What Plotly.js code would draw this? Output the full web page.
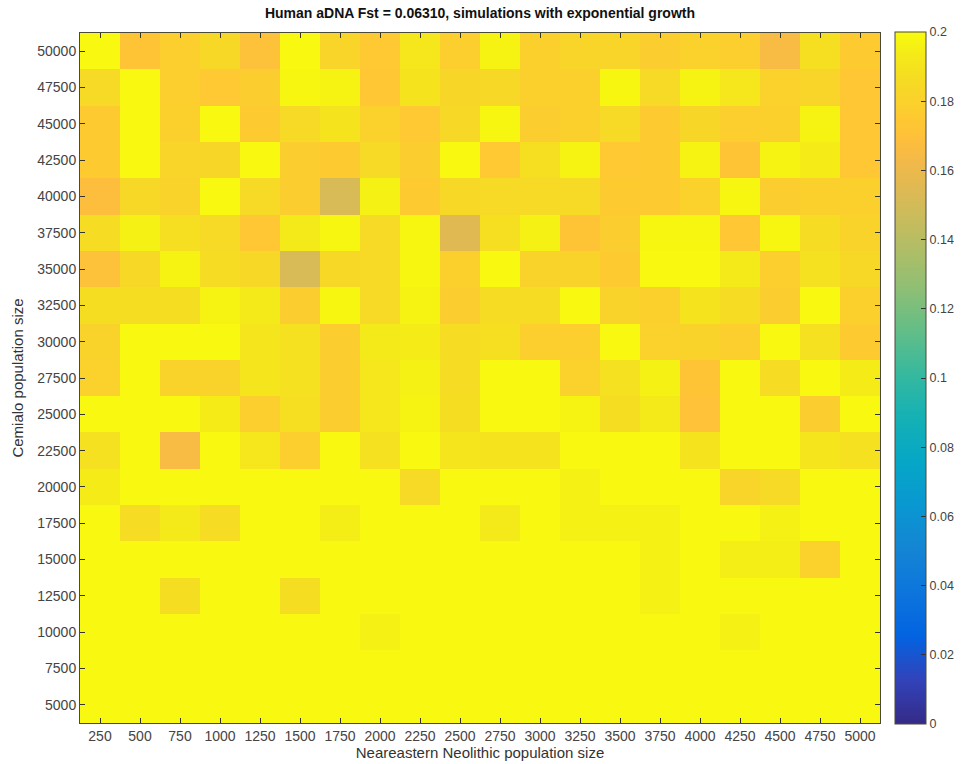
<!DOCTYPE html>
<html>
<head>
<meta charset="utf-8">
<script src="https://cdn.plot.ly/plotly-3.0.1.min.js"></script>
<style>
  html, body { margin: 0; padding: 0; background: #ffffff; }
  #chart { width: 961px; height: 764px; }
</style>
</head>
<body>
<div id="chart"></div>
<script>
// Neareastern Neolithic population size (columns)
const xValues = [250, 500, 750, 1000, 1250, 1500, 1750, 2000, 2250, 2500,
                 2750, 3000, 3250, 3500, 3750, 4000, 4250, 4500, 4750, 5000];
// Cemialo population size (rows, top to bottom)
const yValues = [50000, 47500, 45000, 42500, 40000, 37500, 35000, 32500, 30000, 27500,
                 25000, 22500, 20000, 17500, 15000, 12500, 10000, 7500, 5000];

// Fst values, one array per row (columns 250 ... 5000)
const row50000 = [0.199,0.172,0.178,0.184,0.170,0.199,0.182,0.175,0.192,0.178, 0.197,0.179,0.182,0.182,0.177,0.180,0.178,0.165,0.188,0.176];
const row47500 = [0.185,0.199,0.178,0.175,0.177,0.198,0.197,0.174,0.190,0.183, 0.184,0.179,0.179,0.198,0.185,0.197,0.192,0.180,0.182,0.174];
const row45000 = [0.176,0.199,0.179,0.199,0.176,0.185,0.190,0.180,0.175,0.184, 0.198,0.177,0.179,0.185,0.176,0.183,0.178,0.179,0.197,0.174];
const row42500 = [0.176,0.199,0.182,0.183,0.199,0.177,0.176,0.185,0.177,0.199, 0.175,0.188,0.197,0.175,0.176,0.197,0.172,0.197,0.194,0.174];
const row40000 = [0.168,0.184,0.181,0.199,0.185,0.177,0.152,0.196,0.176,0.184, 0.185,0.185,0.185,0.176,0.176,0.180,0.198,0.177,0.179,0.179];
const row37500 = [0.186,0.196,0.188,0.185,0.174,0.193,0.198,0.185,0.198,0.155, 0.188,0.196,0.172,0.177,0.198,0.198,0.174,0.198,0.186,0.181];
const row35000 = [0.170,0.184,0.197,0.186,0.184,0.152,0.184,0.185,0.198,0.179, 0.199,0.181,0.181,0.176,0.199,0.199,0.193,0.178,0.189,0.184];
const row32500 = [0.187,0.187,0.187,0.197,0.193,0.177,0.198,0.185,0.197,0.177, 0.186,0.186,0.199,0.181,0.179,0.190,0.186,0.177,0.199,0.179];
const row30000 = [0.181,0.199,0.199,0.199,0.191,0.189,0.177,0.193,0.194,0.186, 0.188,0.178,0.178,0.199,0.180,0.181,0.178,0.199,0.189,0.176];
const row27500 = [0.180,0.199,0.181,0.181,0.191,0.189,0.177,0.192,0.196,0.186, 0.199,0.199,0.180,0.189,0.196,0.172,0.199,0.186,0.199,0.194];
const row25000 = [0.199,0.199,0.199,0.194,0.178,0.188,0.177,0.192,0.197,0.187, 0.199,0.199,0.197,0.187,0.193,0.171,0.199,0.199,0.177,0.199];
const row22500 = [0.189,0.199,0.165,0.199,0.192,0.178,0.199,0.189,0.199,0.191, 0.190,0.190,0.199,0.199,0.199,0.190,0.199,0.199,0.191,0.189];
const row20000 = [0.194,0.199,0.199,0.199,0.199,0.199,0.199,0.199,0.185,0.199, 0.199,0.199,0.196,0.199,0.199,0.199,0.182,0.185,0.199,0.199];
const row17500 = [0.199,0.186,0.193,0.186,0.199,0.199,0.195,0.199,0.199,0.199, 0.193,0.199,0.196,0.196,0.196,0.199,0.199,0.196,0.199,0.199];
const row15000 = [0.199,0.199,0.199,0.199,0.199,0.199,0.199,0.199,0.199,0.199, 0.199,0.199,0.199,0.199,0.196,0.199,0.195,0.195,0.180,0.199];
const row12500 = [0.199,0.199,0.187,0.199,0.199,0.187,0.199,0.199,0.199,0.199, 0.199,0.199,0.199,0.199,0.196,0.199,0.199,0.199,0.199,0.199];
const row10000 = [0.199,0.199,0.199,0.199,0.199,0.199,0.199,0.196,0.199,0.199, 0.199,0.199,0.199,0.199,0.199,0.199,0.196,0.199,0.199,0.199];
const row7500  = [0.199,0.199,0.199,0.199,0.199,0.199,0.199,0.199,0.199,0.199, 0.199,0.199,0.199,0.199,0.199,0.199,0.199,0.199,0.199,0.199];
const row5000  = [0.199,0.199,0.199,0.199,0.199,0.199,0.199,0.199,0.199,0.199, 0.199,0.199,0.199,0.199,0.199,0.199,0.199,0.199,0.199,0.199];

const zRows = [row50000, row47500, row45000, row42500, row40000, row37500, row35000,
               row32500, row30000, row27500, row25000, row22500, row20000, row17500,
               row15000, row12500, row10000, row7500, row5000];

const colorbarTicks = [0, 0.02, 0.04, 0.06, 0.08, 0.1, 0.12, 0.14, 0.16, 0.18, 0.2];
const colorbarLabels = ['0', '0.02', '0.04', '0.06', '0.08', '0.1', '0.12', '0.14', '0.16', '0.18', '0.2'];

// MATLAB parula colormap
const parulaRGB = [
 [0.2081,0.1663,0.5292],[0.1959,0.2645,0.7279],[0.0117,0.3875,0.8820],[0.0498,0.4586,0.8641],
 [0.0793,0.5200,0.8312],[0.0343,0.5966,0.8199],[0.0228,0.6535,0.7768],[0.0843,0.6928,0.7062],
 [0.2178,0.7250,0.6193],[0.3953,0.7459,0.5244],[0.5709,0.7485,0.4494],[0.6834,0.7435,0.4044],
 [0.7184,0.7411,0.3905],[0.7525,0.7384,0.3768],[0.7858,0.7356,0.3633],[0.8185,0.7327,0.3498],
 [0.8507,0.7299,0.3360],[0.8824,0.7274,0.3217],[0.9139,0.7258,0.3063],[0.9450,0.7261,0.2886],
 [0.9739,0.7314,0.2666],[0.9938,0.7455,0.2403],[0.9990,0.7653,0.2164],[0.9955,0.7861,0.1967],
 [0.9880,0.8066,0.1794],[0.9789,0.8271,0.1633],[0.9697,0.8481,0.1475],[0.9626,0.8705,0.1309],
 [0.9589,0.8949,0.1132],[0.9598,0.9218,0.0948],[0.9661,0.9514,0.0755],[0.9763,0.9831,0.0538]
];
const parulaIdx = [0,4,8,12,16,20,24,28,32,36,40,43,44,45,46,47,48,49,50,51,52,53,54,55,56,57,58,59,60,61,62,63];
const parula = parulaRGB.map((c, i) => [parulaIdx[i] / 63,
  'rgb(' + Math.round(c[0]*255) + ',' + Math.round(c[1]*255) + ',' + Math.round(c[2]*255) + ')']);

const fontFam = '"Liberation Sans", Arial, Helvetica, sans-serif';

const trace = {
  type: 'heatmap',
  x: xValues,
  y: yValues,
  z: zRows,
  zmin: 0,
  zmax: 0.2,
  zsmooth: false,
  colorscale: parula,
  colorbar: {
    x: 1.01875, xanchor: 'left', xref: 'paper',
    y: 0.5, yanchor: 'middle',
    len: 1.003, lenmode: 'fraction',
    thickness: 31,
    xpad: 0, ypad: 0,
    outlinecolor: '#4a4a3a', outlinewidth: 1,
    tickvals: colorbarTicks, ticktext: colorbarLabels,
    ticks: 'inside', ticklen: 5, tickcolor: '#333',
    tickfont: { family: fontFam, size: 12.5, color: '#444' }
  }
};

const layout = {
  width: 961, height: 764,
  margin: { l: 80, r: 81, t: 33, b: 41, pad: 0, autoexpand: false },
  paper_bgcolor: '#ffffff',
  plot_bgcolor: '#ffffff',
  title: {
    text: '<b>Human aDNA Fst = 0.06310, simulations with exponential growth</b>',
    font: { family: fontFam, size: 14, color: '#111' },
    x: 0.5, xanchor: 'center', xref: 'paper',
    y: 0.983, yanchor: 'middle'
  },
  xaxis: {
    title: { text: 'Neareastern Neolithic population size', font: { family: fontFam, size: 15, color: '#333' }, standoff: 1 },
    tickvals: xValues,
    ticktext: xValues.map(String),
    tickfont: { family: fontFam, size: 14, color: '#444' },
    ticks: 'inside', ticklen: 5, tickcolor: '#333',
    showline: true, linecolor: '#4a4a3a', linewidth: 1, mirror: 'ticks',
    showgrid: false, zeroline: false
  },
  yaxis: {
    title: { text: 'Cemialo population size', font: { family: fontFam, size: 15, color: '#333' }, standoff: 10 },
    tickvals: yValues,
    ticktext: yValues.map(String),
    tickfont: { family: fontFam, size: 14, color: '#444' },
    ticks: 'inside', ticklen: 5, tickcolor: '#333',
    showline: true, linecolor: '#4a4a3a', linewidth: 1, mirror: 'ticks',
    showgrid: false, zeroline: false
  }
};

Plotly.newPlot('chart', [trace], layout, { displayModeBar: false, staticPlot: true });
</script>
</body>
</html>
